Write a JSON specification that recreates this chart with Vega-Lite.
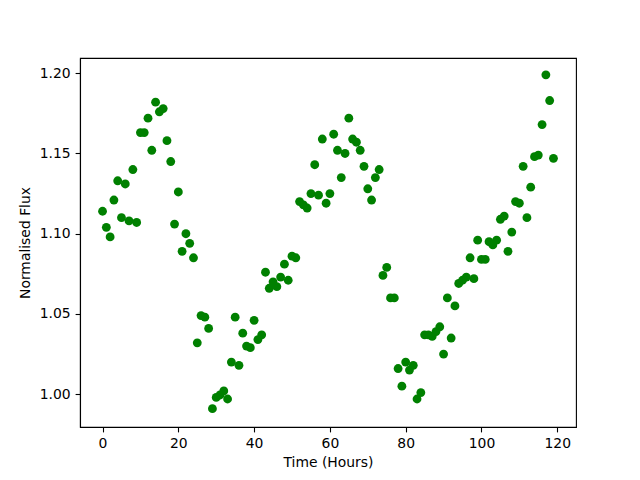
{
  "$schema": "https://vega.github.io/schema/vega-lite/v6.json",
  "autosize": "none",
  "width": 496,
  "height": 369,
  "padding": {"left": 80, "top": 58, "right": 64, "bottom": 53},
  "background": "white",
  "data": {"values": [
    {"t":0,"f":1.114},{"t":1,"f":1.104},{"t":2,"f":1.098},{"t":3,"f":1.121},{"t":4,"f":1.133},
    {"t":5,"f":1.110},{"t":6,"f":1.131},{"t":7,"f":1.108},{"t":8,"f":1.140},{"t":9,"f":1.107},
    {"t":10,"f":1.163},{"t":11,"f":1.163},{"t":12,"f":1.172},{"t":13,"f":1.152},{"t":14,"f":1.182},
    {"t":15,"f":1.176},{"t":16,"f":1.178},{"t":17,"f":1.158},{"t":18,"f":1.145},{"t":19,"f":1.106},
    {"t":20,"f":1.126},{"t":21,"f":1.089},{"t":22,"f":1.100},{"t":23,"f":1.094},{"t":24,"f":1.085},
    {"t":25,"f":1.032},{"t":26,"f":1.049},{"t":27,"f":1.048},{"t":28,"f":1.041},{"t":29,"f":0.991},
    {"t":30,"f":0.998},{"t":31,"f":0.9995},{"t":32,"f":1.002},{"t":33,"f":0.997},{"t":34,"f":1.020},
    {"t":35,"f":1.048},{"t":36,"f":1.018},{"t":37,"f":1.038},{"t":38,"f":1.030},{"t":39,"f":1.029},
    {"t":40,"f":1.046},{"t":41,"f":1.034},{"t":42,"f":1.037},{"t":43,"f":1.076},{"t":44,"f":1.066},
    {"t":45,"f":1.070},{"t":46,"f":1.067},{"t":47,"f":1.073},{"t":48,"f":1.081},{"t":49,"f":1.071},
    {"t":50,"f":1.086},{"t":51,"f":1.085},{"t":52,"f":1.120},{"t":53,"f":1.118},{"t":54,"f":1.116},
    {"t":55,"f":1.125},{"t":56,"f":1.143},{"t":57,"f":1.124},{"t":58,"f":1.159},{"t":59,"f":1.119},
    {"t":60,"f":1.125},{"t":61,"f":1.162},{"t":62,"f":1.152},{"t":63,"f":1.135},{"t":64,"f":1.150},
    {"t":65,"f":1.172},{"t":66,"f":1.159},{"t":67,"f":1.157},{"t":68,"f":1.152},{"t":69,"f":1.142},
    {"t":70,"f":1.128},{"t":71,"f":1.121},{"t":72,"f":1.135},{"t":73,"f":1.140},{"t":74,"f":1.074},
    {"t":75,"f":1.079},{"t":76,"f":1.060},{"t":77,"f":1.060},{"t":78,"f":1.016},{"t":79,"f":1.005},
    {"t":80,"f":1.020},{"t":81,"f":1.015},{"t":82,"f":1.018},{"t":83,"f":0.997},{"t":84,"f":1.001},
    {"t":85,"f":1.037},{"t":86,"f":1.037},{"t":87,"f":1.036},{"t":88,"f":1.039},{"t":89,"f":1.042},
    {"t":90,"f":1.025},{"t":91,"f":1.060},{"t":92,"f":1.035},{"t":93,"f":1.055},{"t":94,"f":1.069},
    {"t":95,"f":1.071},{"t":96,"f":1.073},{"t":97,"f":1.085},{"t":98,"f":1.072},{"t":99,"f":1.096},
    {"t":100,"f":1.084},{"t":101,"f":1.084},{"t":102,"f":1.095},{"t":103,"f":1.093},{"t":104,"f":1.096},
    {"t":105,"f":1.109},{"t":106,"f":1.111},{"t":107,"f":1.089},{"t":108,"f":1.101},{"t":109,"f":1.120},
    {"t":110,"f":1.119},{"t":111,"f":1.142},{"t":112,"f":1.110},{"t":113,"f":1.129},{"t":114,"f":1.148},
    {"t":115,"f":1.149},{"t":116,"f":1.168},{"t":117,"f":1.199},{"t":118,"f":1.183},{"t":119,"f":1.147}
  ]},
  "mark": {"type": "circle", "color": "#008000", "opacity": 1, "size": 78},
  "encoding": {
    "x": {"field": "t", "type": "quantitative", "title": "Time (Hours)",
      "scale": {"domain": [-5.95, 124.95], "nice": false, "zero": false},
      "axis": {"values": [0, 20, 40, 60, 80, 100, 120], "grid": false}},
    "y": {"field": "f", "type": "quantitative", "title": "Normalised Flux",
      "scale": {"domain": [0.97955, 1.2095], "nice": false, "zero": false},
      "axis": {"values": [1.0, 1.05, 1.1, 1.15, 1.2], "format": ".2f", "grid": false, "titlePadding": 7}}
  },
  "config": {
    "view": {"stroke": "black", "strokeWidth": 1.1},
    "axis": {
      "labelFont": "DejaVu Sans", "titleFont": "DejaVu Sans",
      "labelFontSize": 13.9, "titleFontSize": 13.9,
      "titleFontWeight": "normal", "labelColor": "black", "titleColor": "black",
      "tickColor": "black", "tickSize": 4.9, "tickWidth": 1.1,
      "domainColor": "black", "domainWidth": 1.1,
      "labelPadding": 4.9, "titlePadding": 5, "labelFlush": false, "labelOverlap": false
    }
  }
}
